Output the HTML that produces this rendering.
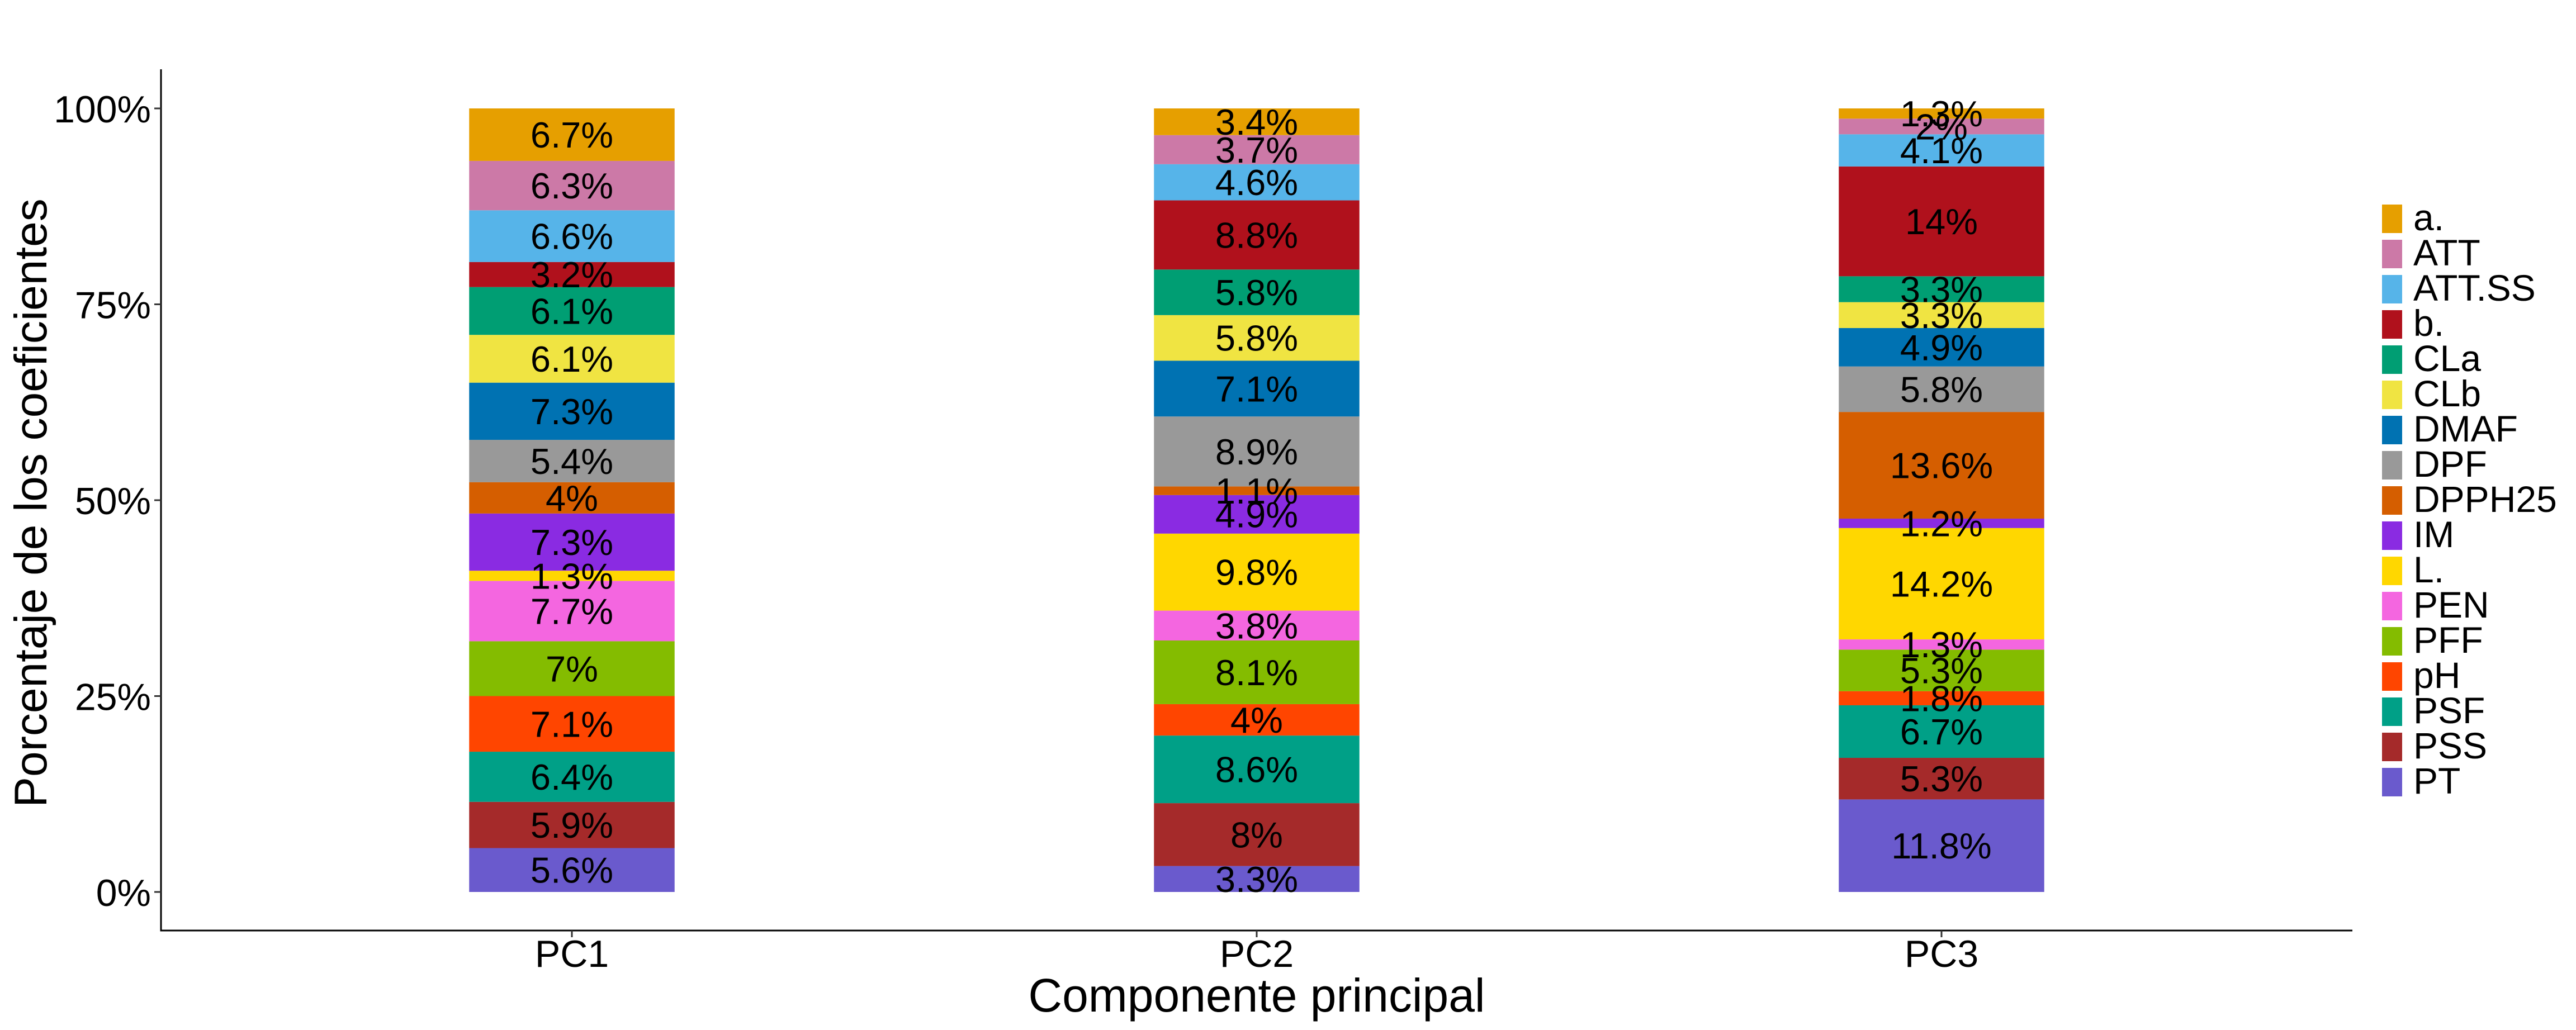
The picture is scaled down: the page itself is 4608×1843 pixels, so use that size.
<!DOCTYPE html>
<html><head><meta charset="utf-8"><style>
html,body{margin:0;padding:0;background:#fff}
svg{display:block;font-family:"Liberation Sans",Arial,sans-serif}
</style></head><body>
<svg id="chart" width="4608" height="1843" viewBox="0 0 4608 1843" xmlns="http://www.w3.org/2000/svg">
<rect width="4608" height="1843" fill="#fff"/>
<g id="bars"></g>
<g id="axes"></g>
<g id="legend"></g>
<text x="2248" y="1810" font-size="84" text-anchor="middle">Componente principal</text>
<text transform="translate(83,900) rotate(-90)" font-size="82" text-anchor="middle">Porcentaje de los coeficientes</text>
</svg>
<script>
const categories = ["PC1","PC2","PC3"];
const variables = ["a.","ATT","ATT.SS","b.","CLa","CLb","DMAF","DPF","DPPH25","IM","L.","PEN","PFF","pH","PSF","PSS","PT"];
const colors = ["#E69F00","#CC79A7","#56B4E9","#B0111C","#009E73","#F0E442","#0072B2","#999999","#D55E00","#8A2BE2","#FFD700","#F466E0","#84BC00","#FF4500","#00A087","#A52A2A","#6A5ACD"];
const pc1 = [6.7,6.3,6.6,3.2,6.1,6.1,7.3,5.4,4,7.3,1.3,7.7,7,7.1,6.4,5.9,5.6];
const pc2 = [3.4,3.7,4.6,8.8,5.8,5.8,7.1,8.9,1.1,4.9,9.8,3.8,8.1,4,8.6,8,3.3];
const pc3 = [1.3,2,4.1,14,3.3,3.3,4.9,5.8,13.6,1.2,14.2,1.3,5.3,1.8,6.7,5.3,11.8];
const series = [pc1,pc2,pc3];
const yTicks = [0,25,50,75,100];
const yTickLabels = ["0%","25%","50%","75%","100%"];

const NS="http://www.w3.org/2000/svg";
const panelL=288, panelR=4208, y0=1596, y100=194;
const unit=(panelR-panelL)/3.2;
const xScale=i=>panelL+(i+0.6)*unit;
const yScale=p=>y0-(y0-y100)*p/100;
const barW=0.3*unit;
function mk(tag,attrs,parent){const e=document.createElementNS(NS,tag);for(const k in attrs)e.setAttribute(k,attrs[k]);parent.appendChild(e);return e;}
const gb=document.getElementById('bars');
series.forEach((vals,ci)=>{
  const total=vals.reduce((a,b)=>a+b,0);
  let cum=0;
  const cx=xScale(ci);
  for(let k=vals.length-1;k>=0;k--){
    const lo=cum/total*100, hi=(cum+vals[k])/total*100;
    cum+=vals[k];
    const r=mk('rect',{x:cx-barW/2,y:yScale(hi),width:barW,height:yScale(lo)-yScale(hi),fill:colors[k]},gb);
    
    
  }
  cum=0;
  for(let k=vals.length-1;k>=0;k--){
    const mid=(cum+vals[k]/2)/total*100;
    cum+=vals[k];
    const t=mk('text',{x:cx,y:yScale(mid)+23,'font-size':65,'text-anchor':'middle'},gb);
    t.textContent=vals[k]+'%';
    
    
  }
});
const ga=document.getElementById('axes');
const ya=mk('line',{x1:panelL,y1:124,x2:panelL,y2:1665,stroke:'#000','stroke-width':3},ga);


const xa=mk('line',{x1:panelL-1.5,y1:1665,x2:panelR,y2:1665,stroke:'#000','stroke-width':3},ga);


yTicks.forEach((v,i)=>{
  const y=yScale(v);
  mk('line',{x1:panelL-12,y1:y,x2:panelL,y2:y,stroke:'#333','stroke-width':3},ga);
  const t=mk('text',{x:panelL-18,y:y+25,'font-size':68,'text-anchor':'end'},ga);
  t.textContent=yTickLabels[i];
  
  
});
categories.forEach((c,i)=>{
  const x=xScale(i);
  mk('line',{x1:x,y1:1665,x2:x,y2:1677,stroke:'#333','stroke-width':3},ga);
  const t=mk('text',{x:x,y:1730,'font-size':68,'text-anchor':'middle'},ga);
  t.textContent=c;
  
  
});
const gl=document.getElementById('legend');
variables.forEach((v,i)=>{
  const y=366+i*63;
  const g=mk('g',{},gl);
  
  
  mk('rect',{x:4261,y:y,width:36,height:51,fill:colors[i]},g);
  const t=mk('text',{x:4317,y:y+46,'font-size':66},g);
  t.textContent=v;
});
</script>
</body></html>
